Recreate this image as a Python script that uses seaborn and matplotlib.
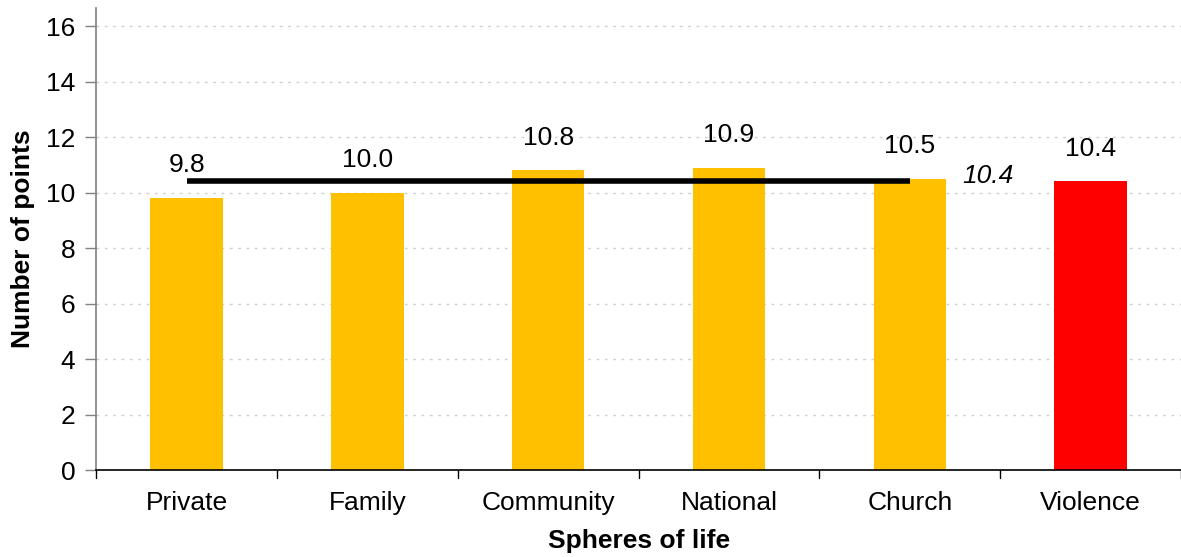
import matplotlib
matplotlib.use("Agg")
import matplotlib.pyplot as plt
import seaborn as sns
import pandas as pd

categories = ["Private", "Family", "Community", "National", "Church", "Violence"]
values = [9.8, 10.0, 10.8, 10.9, 10.5, 10.4]
bar_colors = ["#FFC000", "#FFC000", "#FFC000", "#FFC000", "#FFC000", "#FF0000"]
average_value = 10.4
average_span = ["Private", "Church"]
yticks = [0, 2, 4, 6, 8, 10, 12, 14, 16]

sns.set_theme(style="white")
plt.rcParams["font.family"] = ["Liberation Sans", "DejaVu Sans"]
plt.rcParams["text.color"] = "black"
plt.rcParams["axes.labelcolor"] = "black"
plt.rcParams["xtick.color"] = "black"
plt.rcParams["ytick.color"] = "black"

df = pd.DataFrame({"sphere": categories, "points": values})

fig = plt.figure(figsize=(11.81, 5.57), dpi=100)
ax = fig.add_axes([0.0815, 0.156, 0.9185, 0.8296])

sns.barplot(data=df, x="sphere", y="points", hue="sphere", palette=bar_colors,
            width=0.4, legend=False, ax=ax, saturation=1, edgecolor="none")

FS = 19
ax.set_xlim(-0.5, len(categories) - 0.5)
ax.set_ylim(0, 16.65)
ax.set_yticks(yticks)
ax.set_yticklabels([str(t) for t in yticks], fontsize=FS)
ax.tick_params(axis="y", length=8, width=1, color="#808080", labelcolor="black",
               direction="out", left=True, pad=7)
ax.set_xticks(range(len(categories)))
ax.set_xticklabels(categories, fontsize=FS)
ax.tick_params(axis="x", length=0, pad=15, labelcolor="black")
for b in [i - 0.5 for i in range(len(categories) + 1)]:
    ax.plot([b, b], [0, -0.3], color="black", lw=1, clip_on=False)

for t in yticks[1:]:
    ax.axhline(t, color="#D0D0D0", lw=1, ls=(0, (2, 4)), zorder=0)

for s in ["top", "right"]:
    ax.spines[s].set_visible(False)
ax.spines["left"].set_color("#808080")
ax.spines["left"].set_linewidth(1.2)
ax.spines["bottom"].set_color("black")
ax.spines["bottom"].set_linewidth(1.2)

for i, v in enumerate(values):
    ax.annotate(f"{v:.1f}", xy=(i, v), xytext=(0, 15), textcoords="offset points",
                ha="center", va="bottom", fontsize=FS, color="black")

x0 = categories.index(average_span[0])
x1 = categories.index(average_span[1])
ax.plot([x0, x1], [average_value, average_value], color="black", lw=4, solid_capstyle="butt", zorder=5)
ax.text(x1 + 0.43, average_value + 0.2, f"{average_value:.1f}", fontsize=FS,
        style="italic", ha="center", va="center", color="black")

ax.set_xlabel("Spheres of life", fontsize=FS, fontweight="bold", labelpad=10)
ax.set_ylabel("Number of points", fontsize=FS, fontweight="bold", labelpad=8)

fig.savefig("out.png", dpi=100)
